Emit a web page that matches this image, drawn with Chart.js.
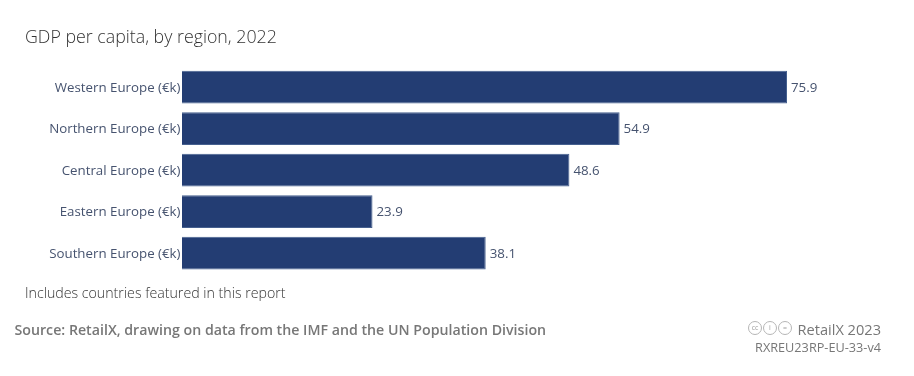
<!DOCTYPE html>
<html>
<head>
<meta charset="utf-8">
<script src="https://cdn.jsdelivr.net/npm/chart.js@4/dist/chart.umd.js"></script>
<style>
  html, body { margin: 0; padding: 0; background: #fff; }
  body { width: 914px; height: 376px; position: relative; overflow: hidden; font-family: "Open Sans", sans-serif; }
  #wrap { position: absolute; left: 0; top: 0; width: 914px; height: 376px; }
  .txt { position: absolute; white-space: nowrap; line-height: 1; }
  #title { left: 25px; top: 27.5px; font-size: 17.8px; font-weight: 300; color: #333; }
  #note { left: 25px; top: 286px; font-size: 14.2px; font-weight: 300; color: #333; }
  #source { left: 14.5px; top: 323px; font-size: 14.2px; font-weight: 600; color: #777; }
  #brand { right: 33px; top: 322px; font-size: 14.6px; color: #777; }
  #code { right: 33px; top: 341px; font-size: 12.7px; color: #777; }
  #cc { position: absolute; left: 748px; top: 321px; display: flex; gap: 1px; }
  #cc span { width: 12px; height: 12px; border: 1px solid #b5b5b5; border-radius: 50%; font-size: 7px; line-height: 12px; text-align: center; color: #a0a0a0; }
</style>
</head>
<body>
<div id="wrap"><canvas id="chart" width="914" height="376"></canvas></div>
<div class="txt" id="title">GDP per capita, by region, 2022</div>
<div class="txt" id="note">Includes countries featured in this report</div>
<div class="txt" id="source">Source: RetailX, drawing on data from the IMF and the UN Population Division</div>
<div id="cc"><span>cc</span><span>i</span><span>=</span></div>
<div class="txt" id="brand">RetailX 2023</div>
<div class="txt" id="code">RXREU23RP-EU-33-v4</div>
<script>
const regions = ['Western Europe (€k)', 'Northern Europe (€k)', 'Central Europe (€k)', 'Eastern Europe (€k)', 'Southern Europe (€k)'];
const gdpPerCapita = [75.9, 54.9, 48.6, 23.9, 38.1];

// Value labels at the end of each bar
const valueLabels = {
  id: 'valueLabels',
  afterDatasetsDraw(chart) {
    const ctx = chart.ctx;
    ctx.save();
    ctx.font = '13.3px "Open Sans"';
    ctx.fillStyle = '#46536f';
    ctx.textBaseline = 'middle';
    chart.getDatasetMeta(0).data.forEach((bar, i) => {
      ctx.fillText(gdpPerCapita[i].toFixed(1), bar.x + 4, bar.y + 1);
    });
    ctx.restore();
  }
};

new Chart(document.getElementById('chart').getContext('2d'), {
  type: 'bar',
  data: {
    labels: regions,
    datasets: [{
      data: gdpPerCapita,
      backgroundColor: '#233d73',
      borderColor: '#46608f',
      borderWidth: 1,
      categoryPercentage: 1,
      barPercentage: 0.79
    }]
  },
  options: {
    indexAxis: 'y',
    responsive: false,
    animation: false,
    layout: { padding: { top: 66.4, bottom: 102.1, right: 94.3, left: 0 } },
    plugins: { legend: { display: false }, tooltip: { enabled: false } },
    scales: {
      x: { display: false, min: 0, max: 80 },
      y: {
        grid: { display: false, drawTicks: false },
        border: { display: false },
        ticks: { color: '#46536f', padding: 1.5, labelOffset: 1, font: { family: 'Open Sans', size: 13.3 } },
        afterFit(axis) { axis.width = 182; }
      }
    }
  },
  plugins: [valueLabels]
});
</script>
</body>
</html>
